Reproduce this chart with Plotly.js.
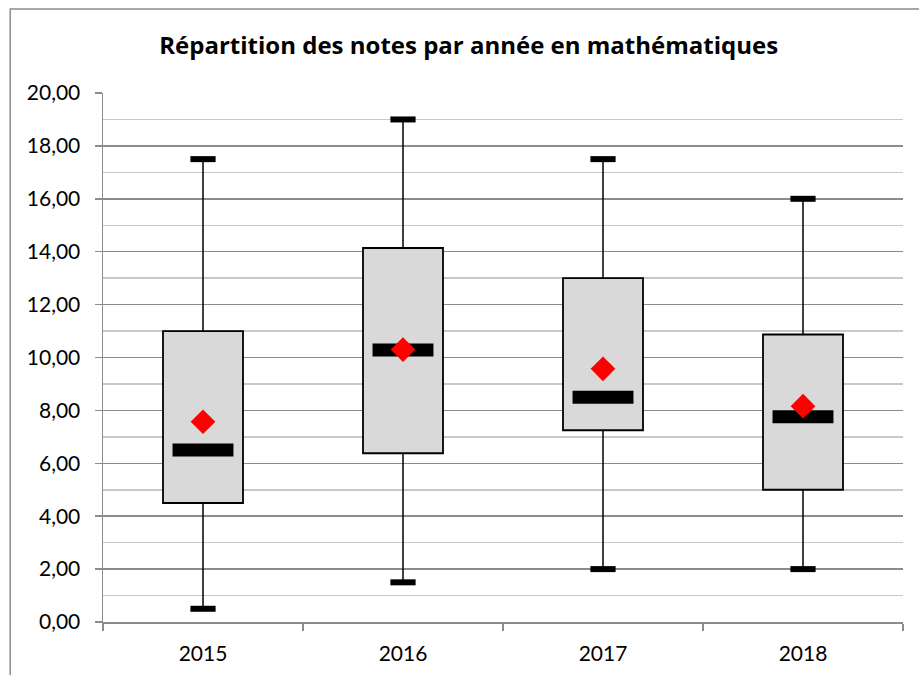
<!DOCTYPE html>
<html>
<head>
<meta charset="utf-8">
<script src="https://cdn.plot.ly/plotly-3.0.1.min.js"></script>
<style>html,body{margin:0;padding:0;background:#fff;}#chart{width:919px;height:675px;}</style>
</head>
<body>
<div id="chart"></div>
<script>
const years = ['2015', '2016', '2017', '2018'];
const minimum = [0.5, 1.5, 2, 2];
const q1 = [4.5, 6.38, 7.25, 5.0];
const median = [6.5, 10.28, 8.5, 7.76];
const q3 = [11, 14.14, 13, 10.87];
const maximum = [17.5, 19, 17.5, 16];
const mean = [7.57, 10.3, 9.57, 8.16];
const yTicks = [0, 2, 4, 6, 8, 10, 12, 14, 16, 18, 20];

// whisker segments built from the arrays
const wx = [], wy = [];
years.forEach((y, i) => {
  wx.push(y, y, null, y, y, null);
  wy.push(minimum[i], q1[i], null, q3[i], maximum[i], null);
});

const traces = [
  {type: 'scatter', mode: 'lines', x: wx, y: wy, line: {color: '#000', width: 1.5},
   hoverinfo: 'skip', showlegend: false, connectgaps: false},
  {type: 'bar', x: years, base: q1, y: q3.map((v, i) => v - q1[i]), width: 0.4,
   marker: {color: '#d9d9d9', line: {color: '#000', width: 1.8}}, showlegend: false},
  {type: 'scatter', mode: 'markers', x: years.concat(years), y: minimum.concat(maximum),
   marker: {symbol: 'line-ew', size: 18, color: '#000', line: {color: '#000', width: 6}}, showlegend: false},
  {type: 'scatter', mode: 'markers', x: years, y: median,
   marker: {symbol: 'line-ew', size: 43.5, color: '#000', line: {color: '#000', width: 13}}, showlegend: false},
  {type: 'scatter', mode: 'markers', x: years, y: mean,
   marker: {symbol: 'diamond', size: 19, color: '#ff0000', line: {width: 0}}, showlegend: false}
];

const layout = {
  width: 919, height: 675,
  margin: {l: 103, r: 16, t: 93, b: 53},
  paper_bgcolor: '#fff', plot_bgcolor: '#fff',
  separators: ', ',
  font: {family: 'Lato, "Open Sans", sans-serif', color: '#000', size: 21},
  title: {text: '<b>Répartition des notes par année en mathématiques</b>',
          font: {size: 24, family: '"Open Sans", Lato, sans-serif', color: '#000'},
          x: 0.51, xanchor: 'center', y: 0.932, yanchor: 'middle'},
  showlegend: false,
  bargap: 0,
  xaxis: {type: 'category', categoryorder: 'array', categoryarray: years,
          showgrid: false, zeroline: false, showline: true, linecolor: '#8c8c8c', linewidth: 1.5,
          ticks: 'outside', tickson: 'boundaries', ticklen: 7, tickcolor: '#8c8c8c', tickwidth: 1.5,
          ticklabelstandoff: 12,
          tickfont: {size: 21}, fixedrange: true},
  yaxis: {range: [0, 20], tickvals: yTicks, tickformat: '.2f',
          showgrid: true, gridcolor: '#8c8c8c', gridwidth: 1.5,
          minor: {dtick: 1, tick0: 0, showgrid: true, gridcolor: '#c8c8c8', gridwidth: 1.5, ticks: ''},
          zeroline: false, showline: true, linecolor: '#8c8c8c', linewidth: 1.5,
          ticks: 'outside', ticklen: 7, tickcolor: '#8c8c8c', tickwidth: 1.5,
          ticklabelstandoff: 10,
          tickfont: {size: 21}, fixedrange: true},
  shapes: [{type: 'rect', xref: 'paper', yref: 'paper', x0: -0.116, x1: 1.2, y0: -0.3, y1: 1.1588,
            line: {color: '#8c8c8c', width: 1.5}, fillcolor: 'rgba(0,0,0,0)', layer: 'below'}]
};

Plotly.newPlot('chart', traces, layout, {displayModeBar: false, staticPlot: true});
</script>
</body>
</html>
